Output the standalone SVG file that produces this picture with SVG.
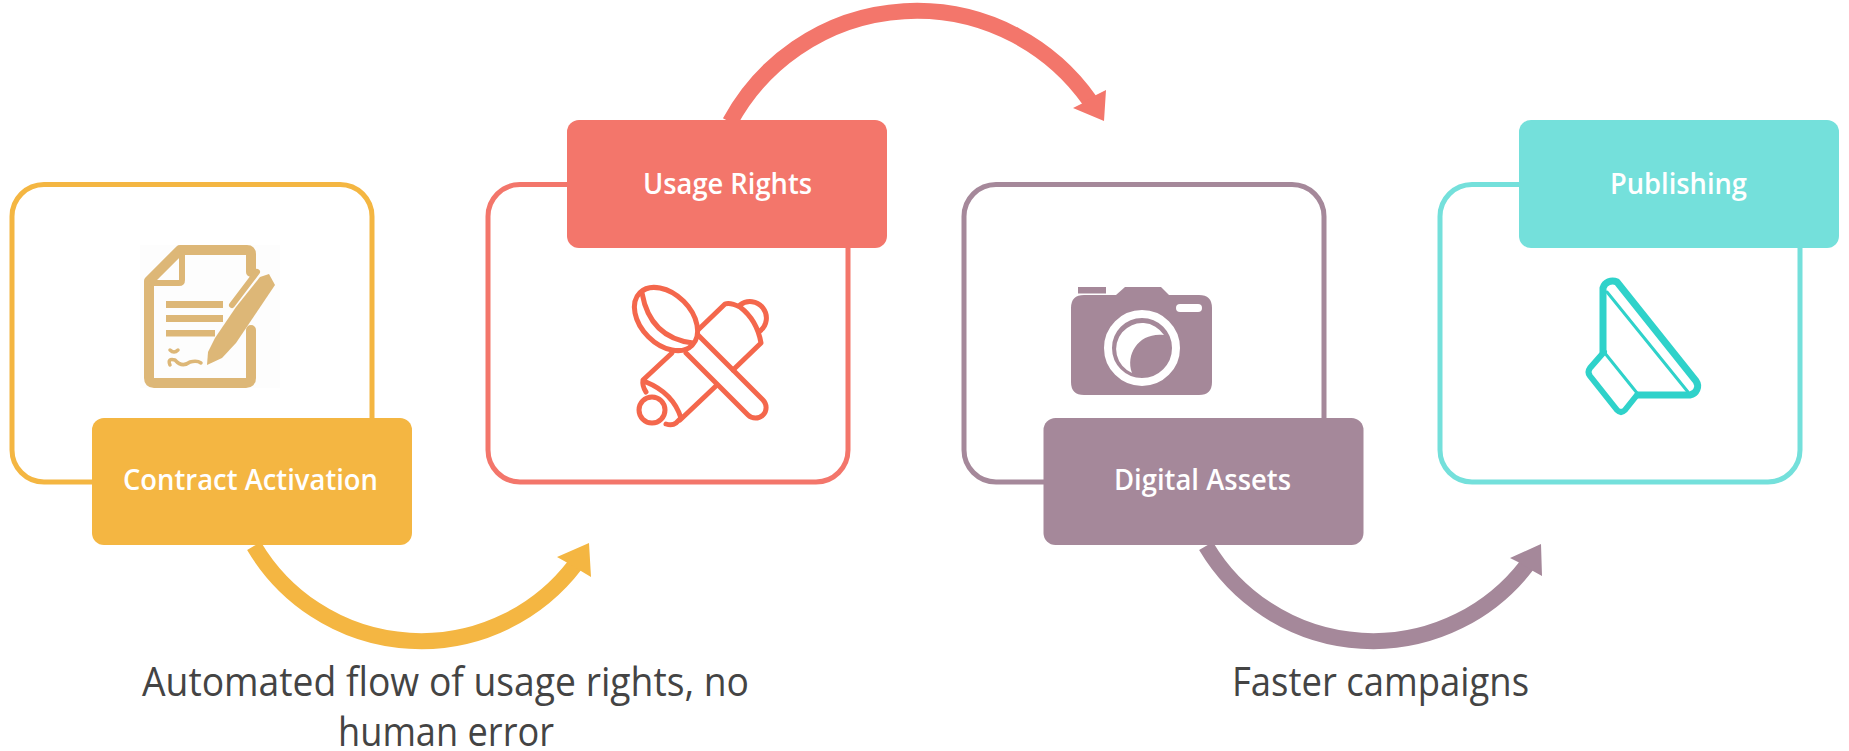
<svg xmlns="http://www.w3.org/2000/svg" width="1849" height="751" viewBox="0 0 1849 751">
<style>
.card{fill:#fff;stroke-width:5}
.lab{font:600 28px "Open Sans",sans-serif;fill:#fff;text-anchor:middle}
.cap{font:40px "Open Sans",sans-serif;fill:#444;text-anchor:middle}
.arc{fill:none;stroke-width:16}
.ln{fill:none;stroke-linecap:round;stroke-linejoin:round}
</style>
<rect width="1849" height="751" fill="#fff"/>
<g id="connectors">
<path class="arc" stroke="#F4B642" d="M254 546A194 194 0 0 0 575 565"/>
<polygon fill="#F4B642" points="589,543 591,577 581,571 566,562 557,557"/>
<path class="arc" stroke="#F3766B" d="M730 122A212 212 0 0 1 1090 101"/>
<polygon fill="#F3766B" points="1106,90 1104,121 1073,108 1083,103 1096,95"/>
<path class="arc" stroke="#A5889A" d="M1206 546A194 194 0 0 0 1527 565"/>
<polygon fill="#A5889A" points="1541,544 1542,576 1533,571 1518,562 1510,558"/>
</g>
<g id="node-contract">
<rect class="card" stroke="#F4B642" x="12" y="184.500" width="360" height="297.500" rx="32"/>
<rect x="140" y="245" width="140" height="143" fill="#fdfdfd"/>
<g stroke="#DDB777">
<path class="ln" stroke-width="10" stroke-linecap="butt" d="M251 272V254Q251 250 247 250H180L149 281V378Q149 383 154 383H246Q251 383 251 378V330"/>
<path class="ln" stroke-width="6" d="M182 254V280Q182 283 179 283H152"/>
<path class="ln" stroke-width="6" stroke-linecap="butt" d="M257 272L232 305"/>
<path class="ln" stroke-width="3.500" d="M170 350Q174 354 178 350M170 365Q167 358 175 360Q182 368 190 362Q197 360 201 363"/>
</g>
<g fill="#DDB777">
<rect x="166" y="301" width="57" height="7"/>
<rect x="166" y="315" width="57" height="7"/>
<rect x="166" y="330" width="49" height="6.500"/>
<polygon points="260,277 269,274 275,285 236,343 222,358 207,365 208,352 215,338 236,307"/>
</g>
</g>
<g id="node-rights">
<rect class="card" stroke="#F3766B" x="488" y="184.500" width="360" height="297.500" rx="32"/>
<g class="ln" stroke="#F4674C" stroke-width="5">
<ellipse cx="666" cy="319" rx="37" ry="25" transform="rotate(45 666 319)"/>
<path d="M642 293Q650 338 693 343"/>
<path d="M698 335L763 400A10.500 10.500 0 0 1 748 415L686 353"/>
<path d="M672 353L643 380Q642 386 646 392M646 382Q673 393 681 418L676 423Q672 426 666 424M717 385L680 420"/>
<circle cx="652" cy="410" r="13"/>
<path d="M698 330L725 304Q730 302 740 307Q757 320 761 343L733 370"/>
<path d="M740 305A14.500 14.500 0 0 1 760 331"/>
</g>
</g>
<g id="node-assets">
<rect class="card" stroke="#A5889A" x="964" y="184.500" width="360" height="297.500" rx="32"/>
<g fill="#A58899">
<rect x="1078" y="287" width="28" height="6.500"/>
<path d="M1116 295L1125 287H1161L1169 295H1199Q1212 295 1212 308V382Q1212 395 1199 395H1084Q1071 395 1071 382V308Q1071 295 1084 295Z"/>
</g>
<rect x="1176" y="304" width="26" height="8" rx="4" fill="#fff"/>
<circle cx="1142" cy="348" r="34" fill="none" stroke="#fff" stroke-width="8"/>
<path fill="#fff" d="M1164 335A26 26 0 1 0 1132 373C1125 353 1140 332 1164 335Z"/>
</g>
<g id="node-publishing">
<rect class="card" stroke="#74E0DB" x="1440" y="184.500" width="360" height="297.500" rx="32"/>
<g class="ln" stroke="#2FD2CA">
<path stroke-width="7" d="M1603 352V288A10 10 0 0 1 1617 282L1696 381A9 9 0 0 1 1690 395H1638"/>
<path stroke-width="6" d="M1604 352L1590 368Q1587 372 1590 376L1617 410Q1621 414 1625 410L1637 395"/>
<path stroke-width="3" d="M1607 292L1688 392M1604 352L1637 393"/>
</g>
</g>
<g id="labels">
<rect x="92" y="418" width="320" height="127" rx="12" fill="#F4B642"/>
<text class="lab" x="250.500" y="490" textLength="255" lengthAdjust="spacingAndGlyphs">Contract Activation</text>
<rect x="567" y="120" width="320" height="128" rx="12" fill="#F3766B"/>
<text class="lab" x="727.500" y="194" textLength="169" lengthAdjust="spacingAndGlyphs">Usage Rights</text>
<rect x="1043.500" y="418" width="320" height="127" rx="12" fill="#A5889A"/>
<text class="lab" x="1202.500" y="490" textLength="177" lengthAdjust="spacingAndGlyphs">Digital Assets</text>
<rect x="1519" y="120" width="320" height="128" rx="12" fill="#74E0DB"/>
<text class="lab" x="1678.500" y="194" textLength="137" lengthAdjust="spacingAndGlyphs">Publishing</text>
</g>
<text class="cap" x="445.500" y="696" textLength="607" lengthAdjust="spacingAndGlyphs">Automated flow of usage rights, no</text>
<text class="cap" x="446" y="746" textLength="216" lengthAdjust="spacingAndGlyphs">human error</text>
<text class="cap" x="1380.500" y="696" textLength="297" lengthAdjust="spacingAndGlyphs">Faster campaigns</text>
</svg>
